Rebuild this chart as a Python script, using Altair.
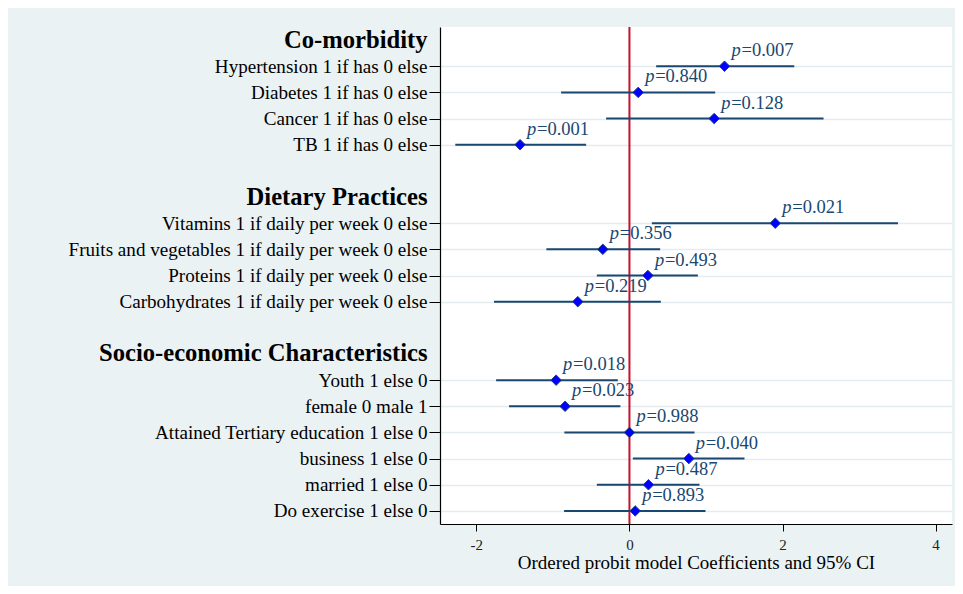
import altair as alt
import pandas as pd

# ---- data ----
groups = ["Co-morbidity", "Dietary Practices", "Socio-economic Characteristics"]

items_com = ["Hypertension 1 if has 0 else", "Diabetes 1 if has 0 else",
             "Cancer 1 if has 0 else", "TB 1 if has 0 else"]
coef_com = [1.242, 0.114, 1.107, -1.429]
lo_com = [0.349, -0.893, -0.305, -2.275]
hi_com = [2.153, 1.120, 2.536, -0.566]
p_com = ["0.007", "0.840", "0.128", "0.001"]

items_diet = ["Vitamins 1 if daily per week 0 else",
              "Fruits and vegetables 1 if daily per week 0 else",
              "Proteins 1 if daily per week 0 else",
              "Carbohydrates 1 if daily per week 0 else"]
coef_diet = [1.905, -0.348, 0.241, -0.675]
lo_diet = [0.293, -1.085, -0.426, -1.769]
hi_diet = [3.508, 0.401, 0.894, 0.410]
p_diet = ["0.021", "0.356", "0.493", "0.219"]

items_soc = ["Youth 1 else 0", "female 0 male 1",
             "Attained Tertiary education 1 else 0", "business 1 else 0",
             "married 1 else 0", "Do exercise 1 else 0"]
coef_soc = [-0.958, -0.841, 0.000, 0.776, 0.248, 0.075]
lo_soc = [-1.742, -1.573, -0.850, 0.044, -0.426, -0.854]
hi_soc = [-0.152, -0.118, 0.850, 1.503, 0.915, 0.993]
p_soc = ["0.018", "0.023", "0.988", "0.040", "0.487", "0.893"]

x_ticks = [-2, 0, 2, 4]
x_domain = [-2.475, 4.214]

# ---- build table ----
labels = items_com + items_diet + items_soc
df = pd.DataFrame({
    "label": labels,
    "coef": coef_com + coef_diet + coef_soc,
    "lo": lo_com + lo_diet + lo_soc,
    "hi": hi_com + hi_diet + hi_soc,
    "pstr": ["=" + s for s in p_com + p_diet + p_soc],
})

order = ([groups[0]] + items_com + ["_blank1"] + [groups[1]] + items_diet
         + ["_blank2"] + [groups[2]] + items_soc)

navy = "#1a476f"
red = "#c8102e"
font = "Times New Roman, Liberation Serif, serif"
xtitle = "Ordered probit model Coefficients and 95% CI"

hdr_test = "indexof(['Co-morbidity','Dietary Practices','Socio-economic Characteristics'], datum.value) >= 0"
nonitem_test = ("indexof(['Co-morbidity','Dietary Practices','Socio-economic Characteristics',"
                "'_blank1','_blank2'], datum.value) >= 0")

yaxis = alt.Axis(
    title=None,
    labelExpr="indexof(datum.value, '_blank') == 0 ? '' : datum.label",
    labelFont=font,
    labelColor="#000000",
    labelFontSize={"condition": {"test": hdr_test, "value": 24.6}, "value": 19.1},
    labelFontWeight={"condition": {"test": hdr_test, "value": "bold"}, "value": "normal"},
    labelLimit=430,
    labelPadding=2,
    tickSize=11,
    tickColor="#000000",
    tickWidth=1,
    tickOpacity={"condition": {"test": nonitem_test, "value": 0}, "value": 1},
    grid=True,
    gridColor="#e4ecef",
    gridWidth=1.5,
    gridOpacity={"condition": {"test": nonitem_test, "value": 0}, "value": 1},
    domainColor="#000000",
    domainWidth=1.2,
)

xaxis = alt.Axis(
    title=xtitle,
    titleFont=font,
    titleFontSize=19,
    titleFontWeight="normal",
    titleColor="#000000",
    titlePadding=1,
    values=x_ticks,
    labelExpr="replace(datum.label, '\u2212', '-')",
    labelFont=font,
    labelFontSize=15,
    labelColor="#222222",
    labelPadding=6,
    tickSize=7,
    tickColor="#000000",
    tickWidth=1,
    grid=False,
    domainColor="#000000",
    domainWidth=1.2,
)

xscale = alt.Scale(domain=x_domain, nice=False, zero=False)
yscale = alt.Scale(domain=order, type="point", padding=0.5)

base = alt.Chart(df)

def X(field):
    return alt.X(field, scale=xscale, axis=xaxis, title=xtitle)

Y = alt.Y("label:N", scale=yscale, axis=yaxis, title=None)

ci = base.mark_rule(color=navy, strokeWidth=2).encode(
    x=X("lo:Q"),
    x2="hi:Q",
    y=Y,
)

zero_line = alt.Chart(pd.DataFrame({"z": [0]})).mark_rule(color=red, strokeWidth=2).encode(
    x=X("z:Q"),
)

pts = base.mark_point(shape="diamond", filled=True, size=110, fill="#0000ff",
                      stroke=navy, strokeWidth=1, opacity=1).encode(
    x=X("coef:Q"),
    y=Y,
)

ptxt = base.mark_text(align="left", baseline="alphabetic", dx=7, dy=-10, font=font,
                      fontSize=18.5, fontStyle="italic", color=navy).encode(
    x=X("coef:Q"),
    y=Y,
    text=alt.value("p"),
)

vtxt = base.mark_text(align="left", baseline="alphabetic", dx=17, dy=-10, font=font,
                      fontSize=18.5, color=navy).encode(
    x=X("coef:Q"),
    y=Y,
    text="pstr:N",
)

chart = alt.layer(zero_line, ci, pts, ptxt, vtxt).properties(
    width=512,
    height=497,
    padding={"left": 432, "top": 19, "right": 3, "bottom": 62},
    autosize=alt.AutoSizeParams(type="none"),
    background="#eaf2f3",
).configure_view(fill="#ffffff", stroke=None)

chart.save("out.html", embed_options={"renderer": "svg", "actions": False})
